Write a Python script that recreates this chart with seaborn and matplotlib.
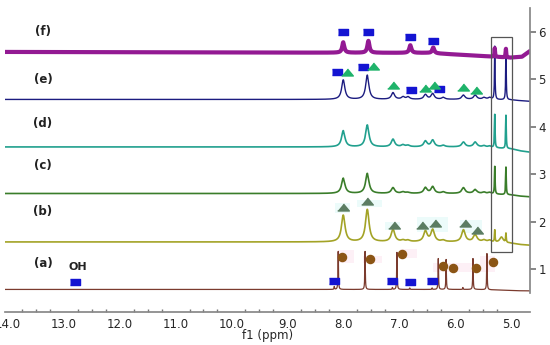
import numpy as np
import seaborn as sns
import matplotlib.pyplot as plt
from matplotlib.patches import Rectangle

# ---- data: peak lists ----
trace_names = ['(a)', '(b)', '(c)', '(d)', '(e)', '(f)']
trace_colors = ['#7b3b2e', '#a3a326', '#3a7d2a', '#21a08e', '#1c1c80', '#931a93']
baselines = [0.58, 1.58, 2.60, 3.58, 4.58, 5.58]

peaks_a = [8.09, 8.16, 7.61, 7.12, 7.04, 6.81, 6.41, 6.30, 6.16, 5.86, 5.68, 5.43]
heights_a = [0.80, 0.06, 0.80, 0.04, 0.78, 0.03, 0.03, 0.65, 0.63, 0.04, 0.65, 0.76]

peaks_bcde = [8.00, 7.57, 7.11, 6.93, 6.84, 6.53, 6.40, 6.21, 5.85, 5.64, 5.48, 5.38, 5.29, 5.17, 5.09]
heights_b = [0.56, 0.68, 0.26, 0.03, 0.03, 0.22, 0.25, 0.03, 0.25, 0.15, 0.04, 0.04, 0.25, 0.12, 0.19]
heights_c = [0.32, 0.42, 0.12, 0.03, 0.02, 0.12, 0.14, 0.03, 0.12, 0.08, 0.03, 0.03, 0.58, 0.00, 0.58]
heights_d = [0.34, 0.46, 0.16, 0.04, 0.03, 0.12, 0.14, 0.03, 0.10, 0.10, 0.03, 0.03, 0.70, 0.00, 0.70]
heights_e = [0.41, 0.51, 0.14, 0.05, 0.05, 0.10, 0.12, 0.04, 0.09, 0.09, 0.04, 0.04, 1.12, 0.00, 1.08]

peaks_f = [8.00, 7.55, 6.80, 6.39, 5.29, 5.09]
heights_f = [0.22, 0.25, 0.16, 0.12, 0.18, 0.18]

# baseline drift anchors (ppm, offset)
drift_ppm = [4.66, 4.80, 5.00, 5.60, 6.50, 14.05]
drift = {
    '(a)': [-0.03, -0.03, -0.02, 0.0, 0.0, 0.0],
    '(b)': [-0.07, -0.06, -0.03, 0.0, 0.0, 0.0],
    '(c)': [-0.07, -0.06, -0.03, 0.0, 0.0, 0.0],
    '(d)': [-0.11, -0.09, -0.04, 0.0, 0.0, 0.0],
    '(e)': [-0.04, -0.03, -0.01, 0.0, 0.0, 0.0],
    '(f)': [0.02, -0.10, -0.12, -0.08, -0.02, 0.0],
}

# markers
sq_a_ppm = [12.80, 8.17, 7.13, 6.81, 6.41]
sq_a_y = [0.73, 0.75, 0.75, 0.73, 0.75]
circ_a_ppm = [8.02, 7.52, 6.95, 6.22, 6.04, 5.63, 5.32]
circ_a_y = [1.27, 1.23, 1.32, 1.08, 1.04, 1.04, 1.15]
tri_b_ppm = [8.00, 7.57, 7.10, 6.59, 6.36, 5.82, 5.61]
tri_b_y = [2.31, 2.44, 1.93, 1.93, 1.97, 1.97, 1.84]
sq_e_ppm = [8.11, 7.65, 6.79, 6.29]
sq_e_y = [5.15, 5.27, 4.77, 4.79]
tri_e_ppm = [7.93, 7.47, 7.11, 6.54, 6.38, 5.86, 5.63]
tri_e_y = [5.15, 5.29, 4.89, 4.83, 4.89, 4.85, 4.77]
sq_f_ppm = [8.00, 7.55, 6.80, 6.39]
sq_f_y = [5.99, 5.99, 5.90, 5.82]

# faint highlight boxes behind the assignment marks (ppm_left, ppm_right, y_low, y_high)
pink_boxes = [(8.10, 7.80, 1.13, 1.40), (7.65, 7.30, 1.13, 1.29), (6.99, 6.68, 1.25, 1.44),
              (6.40, 5.70, 0.94, 1.13), (5.55, 5.29, 0.94, 1.29)]
cyan_boxes = [(8.15, 7.88, 2.19, 2.40), (7.75, 7.31, 2.32, 2.46), (7.25, 6.99, 1.83, 2.00),
              (6.68, 6.13, 1.79, 2.10), (5.91, 5.52, 1.77, 2.04)]


def spectrum(ppm, centers, heights, hw):
    y = np.zeros_like(ppm)
    for c, h in zip(centers, heights):
        y += h / (1 + ((ppm - c) / hw) ** 2)
    return y


sns.set_theme(style='white')
plt.rcParams['font.family'] = ['DejaVu Sans']

fig = plt.figure(figsize=(5.5, 3.45), dpi=100)
ax = fig.add_axes([5 / 550, 33 / 345, 525 / 550, 304 / 345])

for (x0, x1, y0, y1) in pink_boxes:
    ax.add_patch(Rectangle((x1, y0), x0 - x1, y1 - y0, color='#fdf0f6', lw=0, zorder=0))
for (x0, x1, y0, y1) in cyan_boxes:
    ax.add_patch(Rectangle((x1, y0), x0 - x1, y1 - y0, color='#ecfbfa', lw=0, zorder=0))

ppm = np.arange(4.66, 14.05, 0.001)
peak_sets = {
    '(a)': (peaks_a, heights_a, 0.005),
    '(b)': (peaks_bcde, heights_b, 0.038),
    '(c)': (peaks_bcde, heights_c, 0.036),
    '(d)': (peaks_bcde, heights_d, 0.036),
    '(e)': (peaks_bcde, heights_e, 0.034),
    '(f)': (peaks_f, heights_f, 0.022),
}
widths = {'(a)': 0.9, '(b)': 1.2, '(c)': 1.2, '(d)': 1.2, '(e)': 1.0, '(f)': 3.0}

for name, col, base in zip(trace_names, trace_colors, baselines):
    cen, hts, hw = peak_sets[name]
    sharp = [h if c in (5.29, 5.09) else 0 for c, h in zip(cen, hts)]
    broad = [0 if c in (5.29, 5.09) else h for c, h in zip(cen, hts)]
    y = base + np.interp(ppm, drift_ppm, drift[name]) + spectrum(ppm, cen, broad, hw)
    if name != '(a)':
        y += spectrum(ppm, cen, sharp, 0.006)
    sns.lineplot(x=ppm, y=y, color=col, lw=widths[name], ax=ax, estimator=None, sort=False)

rect_m = [(-1.5, -1), (1.5, -1), (1.5, 1), (-1.5, 1)]
tri_m = [(-1, -0.6), (1, -0.6), (0, 0.6)]
ax.scatter(sq_a_ppm, sq_a_y, marker=rect_m, s=45, color='#1414d2', zorder=5)
ax.scatter(circ_a_ppm, circ_a_y, marker='o', s=34, color='#8b5515', zorder=5)
ax.scatter(tri_b_ppm, tri_b_y, marker=tri_m, s=70, color='#5b7d62', zorder=5)
ax.scatter(sq_e_ppm, sq_e_y, marker=rect_m, s=45, color='#1414d2', zorder=5)
ax.scatter(tri_e_ppm, tri_e_y, marker=tri_m, s=70, color='#1fb36a', zorder=5)
ax.scatter(sq_f_ppm, sq_f_y, marker=rect_m, s=45, color='#1414d2', zorder=5)

label_y = [1.13, 2.23, 3.18, 4.08, 5.0, 6.0]
for name, ly in zip(trace_names, label_y):
    ax.text(13.37, ly, name, ha='center', va='center', fontsize=8.5, fontweight='bold', color='#222222')
ax.text(12.75, 1.06, 'OH', ha='center', va='center', fontsize=8, fontweight='bold', color='#222222')

ax.add_patch(Rectangle((4.98, 1.36), 0.38, 4.53, fill=False, ec='#555555', lw=0.9, zorder=6))

ax.set_xlim(14.05, 4.66)
ax.set_ylim(0.105, 6.505)
for s in ['top', 'left']:
    ax.spines[s].set_visible(False)
ax.spines['bottom'].set_color('#888888')
ax.spines['right'].set_color('#888888')
ax.spines['right'].set_bounds(0.5, 6.5)
ax.yaxis.tick_right()
ax.set_yticks([1, 2, 3, 4, 5, 6])
ax.set_xticks(np.arange(5, 14.5, 1.0))
ax.set_xticklabels([f'{v:.1f}' for v in np.arange(5, 14.5, 1.0)])
ax.set_xticks(np.arange(5, 14.1, 0.25), minor=True)
ax.tick_params(axis='x', which='major', direction='in', length=4, color='#777777', labelsize=8.5, pad=4)
ax.tick_params(axis='x', which='minor', direction='in', length=2, color='#777777', bottom=True)
ax.tick_params(axis='y', direction='out', length=4, color='#777777', labelsize=8.5, pad=2, right=True, left=False)
ax.set_xlabel('f1 (ppm)', fontsize=8.5, labelpad=-1)
ax.set_ylabel('')

fig.savefig('out.png', dpi=100)
